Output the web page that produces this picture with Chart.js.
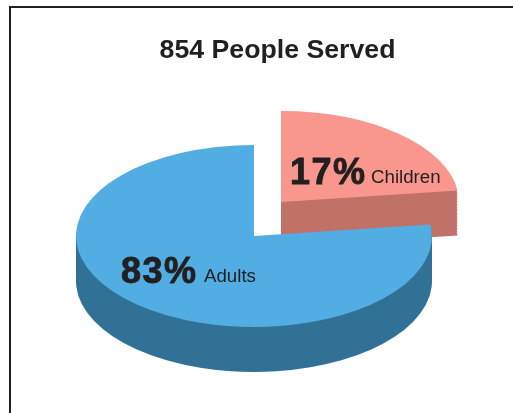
<!DOCTYPE html>
<html lang="en">
<head>
    <meta charset="UTF-8">
    <title>854 People Served</title>
    <script src="https://cdn.jsdelivr.net/npm/chart.js"></script>
    <style>
        body { margin: 0; background: #fff; }
        #frame { position: absolute; left: 9px; top: 6px; width: 504px; height: 407px; box-sizing: border-box; border-top: 2px solid #231f20; border-left: 2px solid #231f20; }
        canvas { position: absolute; left: 0; top: 0; }
    </style>
</head>
<body>
    <canvas id="Chart" width="513" height="413"></canvas>
    <div id="frame"></div>
    <script>
        const chartTitle = '854 People Served';
        const categories = ['Children', 'Adults'];
        // printed percentages
        const percents = [17, 83];
        // share of the circle each slice really covers in the picture: it draws
        // the 17% slice about 83 degrees wide, so the sweep differs from the label
        const drawnShares = [23, 77];

        const topColors = ['#f9968e', '#51ade2'];
        const sideColors = ['#c17267', '#327196'];
        const centers = [{ x: 281, y: 202 }, { x: 254, y: 236 }];
        const labelSpots = [{ x: 290, y: 184, nameX: 371 }, { x: 121, y: 283, nameX: 204 }];
        const depth = 45;
        const squash = 91 / 178;

        function drawSlice(ctx, el, center, yShift, color) {
            const opts = el.options;
            el.options = Object.create(opts, { backgroundColor: { value: color } });
            ctx.save();
            ctx.translate(center.x, center.y + yShift);
            ctx.scale(1, squash);
            ctx.translate(-el.x, -el.y);
            el.draw(ctx);
            ctx.restore();
            el.options = opts;
        }

        const pie3d = {
            id: 'pie3d',
            beforeDatasetsDraw(chart) {
                const ctx = chart.ctx;
                chart.getDatasetMeta(0).data.forEach((el, i) => {
                    // step of 3, a 1px stack leaves faint streaks in the wall
                    for (let d = depth; d > 0; d -= 3) {
                        drawSlice(ctx, el, centers[i], d, sideColors[i]);
                    }
                    drawSlice(ctx, el, centers[i], 0, topColors[i]);
                });
                return false;
            },
            afterDraw(chart) {
                const ctx = chart.ctx;
                ctx.save();
                ctx.fillStyle = '#231f20';
                ctx.strokeStyle = '#231f20';
                ctx.textBaseline = 'alphabetic';
                categories.forEach((name, i) => {
                    const spot = labelSpots[i];
                    const pct = percents[i] + '%';
                    ctx.font = 'bold 36px "Liberation Sans"';
                    ctx.letterSpacing = '1.5px';
                    ctx.lineWidth = 0.9;
                    ctx.fillText(pct, spot.x, spot.y);
                    ctx.strokeText(pct, spot.x, spot.y);
                    ctx.font = '18.7px "Liberation Sans"';
                    ctx.letterSpacing = '0px';
                    ctx.fillText(name, spot.nameX, spot.y - 1);
                });
                ctx.restore();
            }
        };

        new Chart(document.getElementById('Chart').getContext('2d'), {
            type: 'pie',
            data: {
                labels: categories,
                datasets: [{
                    data: drawnShares,
                    backgroundColor: topColors,
                    borderWidth: 0,
                    radius: 178
                }]
            },
            options: {
                responsive: false,
                animation: false,
                layout: { padding: { left: 42 } },
                plugins: {
                    legend: { display: false },
                    tooltip: { enabled: false },
                    title: {
                        display: true,
                        text: chartTitle,
                        fullSize: false,
                        color: '#231f20',
                        font: { family: 'Liberation Sans', size: 26.7, weight: 'bold' },
                        padding: { top: 35, bottom: 0 }
                    }
                }
            },
            plugins: [pie3d]
        });
    </script>
</body>
</html>
